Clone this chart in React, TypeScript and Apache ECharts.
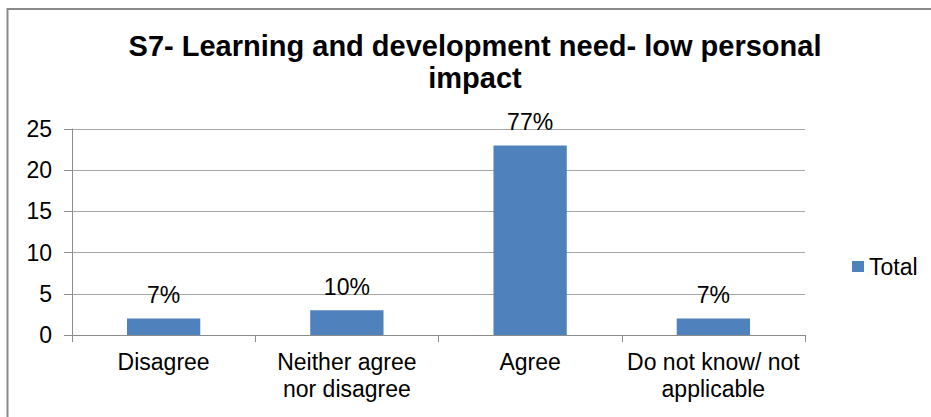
import React, { useEffect, useRef } from "react";
import * as echarts from "echarts";

const titleText = "S7- Learning and development need- low personal\nimpact";
const categories = ["Disagree", "Neither agree\nnor disagree", "Agree", "Do not know/ not\napplicable"];
const totals = [2, 3, 23, 2];
const percentLabels = ["7%", "10%", "77%", "7%"];
const seriesName = "Total";
const yMin = 0;
const yMax = 25;
const yInterval = 5;

const FONT = "'Liberation Sans', Arial, sans-serif";

export default function App() {
  const ref = useRef<HTMLDivElement>(null);
  useEffect(() => {
    if (!ref.current) return;
    const chart = echarts.init(ref.current, undefined, { renderer: "svg" });
    chart.setOption({
      animation: false,
      backgroundColor: "#ffffff",
      legend: {
        left: 847,
        top: 250,
        itemWidth: 12,
        itemHeight: 11,
        icon: "rect",
        data: [seriesName],
        textStyle: { fontFamily: FONT, fontSize: 23, color: "#000000", lineHeight: 23 },
      },
      grid: {
        left: 72,
        right: 126,
        top: 129,
        bottom: 82,
        containLabel: false,
        outerBoundsMode: "none",
      },
      xAxis: {
        type: "category",
        data: categories,
        axisLine: { show: true, lineStyle: { color: "#8c8c8c", width: 1 } },
        axisTick: { show: true, length: 7, alignWithLabel: false, lineStyle: { color: "#8c8c8c" } },
        axisLabel: {
          interval: 0,
          margin: 13,
          fontFamily: FONT,
          fontSize: 23,
          lineHeight: 27,
          color: "#000000",
        },
      },
      yAxis: {
        type: "value",
        min: yMin,
        max: yMax,
        interval: yInterval,
        axisLine: { show: true, lineStyle: { color: "#8c8c8c", width: 1 } },
        axisTick: { show: true, length: 8, lineStyle: { color: "#8c8c8c" } },
        splitLine: { show: true, lineStyle: { color: "#a6a6a6", width: 1 } },
        axisLabel: {
          margin: 20,
          fontFamily: FONT,
          fontSize: 23,
          color: "#000000",
        },
      },
      series: [
        {
          name: seriesName,
          type: "bar",
          data: totals,
          barCategoryGap: "60%",
          itemStyle: { color: "#4f81bd" },
          label: {
            show: true,
            position: "top",
            distance: 12,
            fontFamily: FONT,
            fontSize: 23,
            color: "#000000",
            formatter: (p: any) => percentLabels[p.dataIndex],
          },
        },
      ],
      graphic: [
        {
          type: "rect",
          shape: { x: 7.5, y: 9, width: 1000, height: 600 },
          style: { fill: "none", stroke: "#8a8a8a", lineWidth: 2 },
          silent: true,
        },
        {
          type: "text",
          x: 475,
          y: 30,
          silent: true,
          style: {
            text: titleText,
            align: "center",
            verticalAlign: "top",
            fontFamily: FONT,
            fontSize: 29,
            fontWeight: "bold",
            fill: "#000000",
            lineHeight: 32,
          },
        },
      ],
    });
    return () => chart.dispose();
  }, []);
  return (
    <div
      ref={ref}
      style={{ position: "absolute", left: 0, top: 0, width: 931, height: 417 }}
    />
  );
}
